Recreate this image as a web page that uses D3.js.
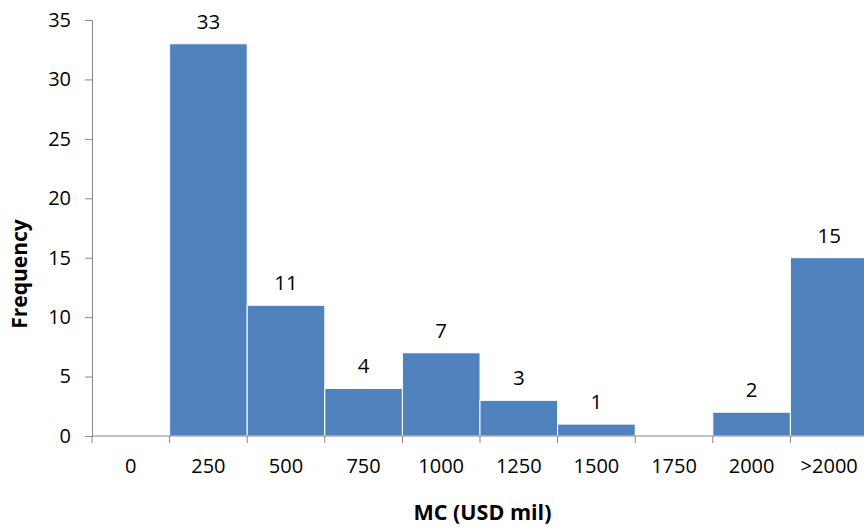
<!DOCTYPE html>
<html>
<head>
<meta charset="utf-8">
<script src="https://cdn.jsdelivr.net/npm/d3@7"></script>
<style>
  html, body { margin: 0; padding: 0; background: #fff; }
  svg { display: block; }
  text { font-family: "Open Sans", "DejaVu Sans", sans-serif; fill: #000; }
</style>
</head>
<body>
<svg id="chart" width="864" height="529"></svg>
<script>
// Market capitalisation bins and how many firms fall in each
const categories = ["0", "250", "500", "750", "1000", "1250", "1500", "1750", "2000", ">2000"];
const frequencies = [0, 33, 11, 4, 7, 3, 1, 0, 2, 15];
const yTicks = [0, 5, 10, 15, 20, 25, 30, 35];

(function drawChart() {
  const svg = d3.select("#chart");
  const plotLeft = 92, plotRight = 868, plotTop = 20, plotBottom = 436;

  const x = d3.scaleBand().domain(categories).range([plotLeft, plotRight]).padding(0);
  const y = d3.scaleLinear().domain([0, 35]).range([plotBottom, plotTop]);

  const axisColor = "#868686";
  const tickFont = "20px";
  const bins = categories.map((c, i) => ({ c, v: frequencies[i] }));

  // Bars (no gaps, thin white separators)
  svg.append("g")
    .selectAll("rect")
    .data(bins.filter(d => d.v > 0))
    .join("rect")
    .attr("x", d => x(d.c))
    .attr("y", d => y(d.v))
    .attr("width", x.bandwidth())
    .attr("height", d => y(0) - y(d.v))
    .attr("fill", "#4f81bd")
    .attr("stroke", "#ffffff")
    .attr("stroke-width", 1);

  // Y axis
  const yAxis = svg.append("g")
    .attr("transform", `translate(${plotLeft},0)`)
    .call(d3.axisLeft(y).tickValues(yTicks).tickSize(7).tickPadding(14));
  yAxis.select(".domain").attr("stroke", axisColor);
  yAxis.selectAll(".tick line").attr("stroke", axisColor);
  yAxis.selectAll(".tick text")
    .style("font-family", '"Open Sans", sans-serif')
    .style("font-size", tickFont)
    .attr("fill", "#000");

  // X axis: tick marks at bin boundaries, labels centred in each bin
  const xAxisG = svg.append("g").attr("transform", `translate(0,${plotBottom})`);
  xAxisG.append("line")
    .attr("x1", plotLeft).attr("x2", plotRight)
    .attr("y1", 0).attr("y2", 0)
    .attr("stroke", axisColor);
  const boundaries = categories.map(c => x(c)).concat([x(categories[categories.length - 1]) + x.bandwidth()]);
  xAxisG.selectAll("line.tick")
    .data(boundaries)
    .join("line")
    .attr("class", "tick")
    .attr("x1", d => d).attr("x2", d => d)
    .attr("y1", 0).attr("y2", 7)
    .attr("stroke", axisColor);
  xAxisG.selectAll("text")
    .data(categories)
    .join("text")
    .attr("x", d => x(d) + x.bandwidth() / 2)
    .attr("y", 37)
    .attr("text-anchor", "middle")
    .style("font-size", tickFont)
    .text(d => d);

  // Value labels above bars
  svg.append("g")
    .selectAll("text")
    .data(bins.filter(d => d.v > 0))
    .join("text")
    .attr("x", d => x(d.c) + x.bandwidth() / 2)
    .attr("y", d => y(d.v) - 15)
    .attr("text-anchor", "middle")
    .style("font-size", "20.5px")
    .text(d => d.v);

  // Axis titles
  svg.append("text")
    .attr("x", 482.5)
    .attr("y", 520)
    .attr("text-anchor", "middle")
    .style("font-size", "21.5px")
    .style("font-weight", "bold")
    .text("MC (USD mil)");

  svg.append("text")
    .attr("transform", "translate(27,274) rotate(-90)")
    .attr("text-anchor", "middle")
    .style("font-size", "21px")
    .style("font-weight", "bold")
    .text("Frequency");
})();
</script>
</body>
</html>
